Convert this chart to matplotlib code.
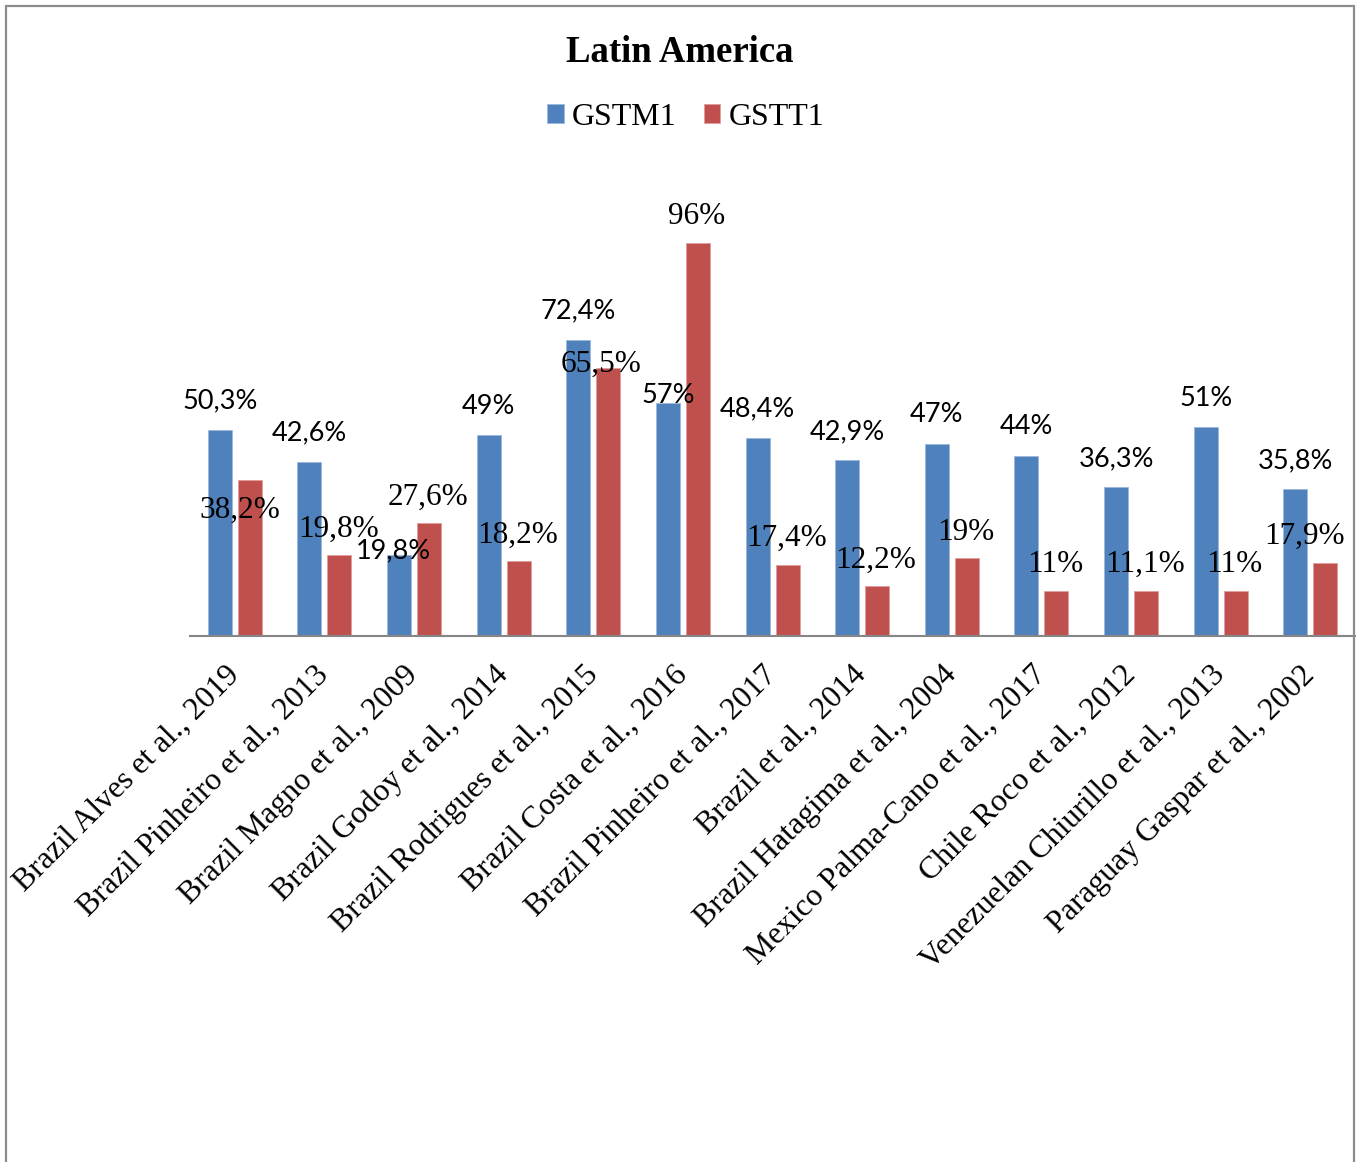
import numpy as np
import matplotlib.pyplot as plt
from matplotlib.patches import Rectangle

studies = [
    "Brazil Alves et al., 2019",
    "Brazil Pinheiro et al., 2013",
    "Brazil Magno et al., 2009",
    "Brazil Godoy et al., 2014",
    "Brazil Rodrigues et al., 2015",
    "Brazil Costa et al., 2016",
    "Brazil Pinheiro et al., 2017",
    "Brazil et al., 2014",
    "Brazil Hatagima et al., 2004",
    "Mexico Palma-Cano et al., 2017",
    "Chile Roco et al., 2012",
    "Venezuelan Chiurillo et al., 2013",
    "Paraguay Gaspar et al., 2002",
]
gstm1 = [50.3, 42.6, 19.8, 49, 72.4, 57, 48.4, 42.9, 47, 44, 36.3, 51, 35.8]
gstt1 = [38.2, 19.8, 27.6, 18.2, 65.5, 96, 17.4, 12.2, 19, 11, 11.1, 11, 17.9]

# label offsets in pixels from the bar top (Excel moved a few of them)
m1_off = [(0, 29)] * 13
m1_off[2] = (-6, 4)
m1_off[5] = (0, 7)
t1_off = [(-1, 26)] * 13
t1_off[0] = (-10, -31)
t1_off[4] = (-7, 3)
t1_off[12] = (-21, 26)

blue = "#4F81BD"
red = "#C0504D"


def fmt(v):
    s = f"{v:g}".replace(".", ",")
    return s + "%"


fig = plt.figure(figsize=(13.63, 11.62), dpi=100)
ax = fig.add_axes([0.1394, 0.4527, 0.8548, 0.3523])

x = np.arange(len(studies))
w = 0.268
b1 = ax.bar(x - 0.167, gstm1, w, color=blue, edgecolor="#9DB7DB", linewidth=0.6, label="GSTM1")
b2 = ax.bar(x + 0.167, gstt1, w, color=red, edgecolor="#DE9D9B", linewidth=0.6, label="GSTT1")

for rect, v, off in zip(b1, gstm1, m1_off):
    ax.annotate(fmt(v), (rect.get_x() + rect.get_width() / 2, v), xytext=off,
                textcoords="offset pixels", ha="center", va="center",
                fontsize=19.5, family="Lato")
for rect, v, off in zip(b2, gstt1, t1_off):
    ax.annotate(fmt(v), (rect.get_x() + rect.get_width() / 2, v), xytext=off,
                textcoords="offset pixels", ha="center", va="center",
                fontsize=22.5, family="Liberation Serif")

ax.set_xlim(-0.5, len(studies) - 0.5)
ax.set_ylim(0, 100)
ax.set_yticks([])
for s in ["top", "right", "left"]:
    ax.spines[s].set_visible(False)
ax.spines["bottom"].set_color("#868686")
ax.spines["bottom"].set_linewidth(1.5)
ax.set_xticks(x)
ax.set_xticklabels(studies, rotation=45, ha="right", va="center",
                   rotation_mode="anchor", fontsize=22.8, family="Liberation Serif")
ax.tick_params(axis="x", length=0, pad=25)

fig.text(0.499, 0.955, "Latin America", ha="center", va="center",
         fontsize=26.5, fontweight="bold", family="Liberation Serif")
fig.legend(handles=[b1, b2], loc="center", bbox_to_anchor=(0.503, 0.899),
           ncol=2, frameon=False, handlelength=0.52, handleheight=0.52,
           handletextpad=0.25, columnspacing=0.85,
           prop={"family": "Liberation Serif", "size": 23})

fig.patches.append(Rectangle((6 / 1363, -0.05), 1348 / 1363, 1.05 - 6 / 1162,
                             transform=fig.transFigure, fill=False,
                             edgecolor="#8C8C8C", linewidth=1.6))

plt.savefig("out.png", dpi=100)
